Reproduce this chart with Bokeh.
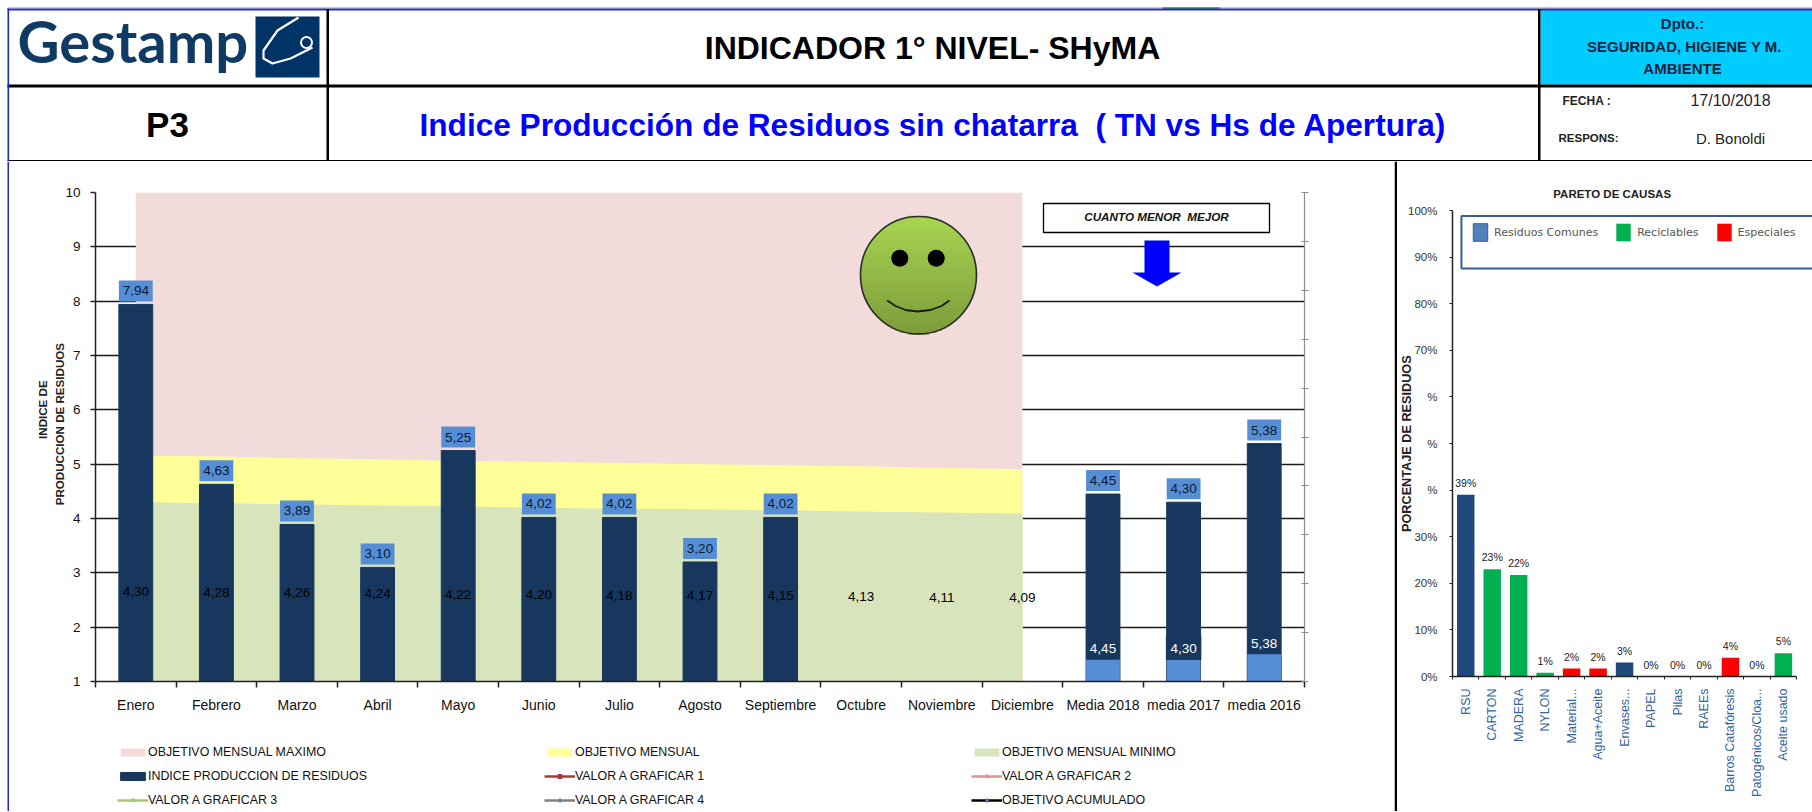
import numpy as np
from bokeh.embed import file_html
from bokeh.resources import INLINE
from bokeh.layouts import column, row
from bokeh.models import Range1d, LinearAxis, FixedTicker, Legend, LegendItem, Grid
from bokeh.plotting import figure
from bokeh.core.properties import value

# ---------- data ----------
months = ["Enero", "Febrero", "Marzo", "Abril", "Mayo", "Junio", "Julio", "Agosto", "Septiembre",
          "Octubre", "Noviembre", "Diciembre", "Media 2018", "media 2017", "media 2016"]
indice = [7.94, 4.63, 3.89, 3.10, 5.25, 4.02, 4.02, 3.20, 4.02, None, None, None, 4.45, 4.30, 5.38]
obj_min = [4.30, 4.28, 4.26, 4.24, 4.22, 4.20, 4.18, 4.17, 4.15, 4.13, 4.11, 4.09]
obj_med = [5.16, 5.14, 5.11, 5.09, 5.06, 5.04, 5.02, 5.00, 4.98, 4.96, 4.93, 4.91]
obj_max = [10, 10, 10, 10, 10, 10, 10, 10, 10, 10, 10, 10]
medias = [1.40, 1.40, 1.50]
pareto_cats = ["RSU", "CARTON", "MADERA", "NYLON", "Material...", "Agua+Aceite", "Envases...", "PAPEL", "Pilas",
               "RAEEs", "Barros Catafóresis", "Patogénicos/Cloa...", "Aceite usado"]
pareto_vals = [39, 23, 21.8, 0.8, 1.7, 1.7, 3, 0, 0, 0, 4, 0, 5]
pareto_text = ["39%", "23%", "22%", "1%", "2%", "2%", "3%", "0%", "0%", "0%", "4%", "0%", "5%"]
pareto_class = ["c", "r", "r", "r", "e", "e", "c", "c", "e", "e", "e", "e", "r"]

ARIAL = "Liberation Sans"
NAVY = "#17375E"
LBLUE = "#558ED5"
NAN = float("nan")
NB = "\u00a0"

def T(p, x, y, s, size, color="#000000", style="normal", align="center", font=ARIAL, baseline="middle", **kw):
    return p.text([x], [y], text=[s], text_font=value(font), text_font_size=f"{size}px", text_color=color,
                  text_font_style=style, text_align=align, text_baseline=baseline, **kw)

def box(p, x0, x1, y0, y1, c, **kw):
    p.quad(left=[x0], right=[x1], top=[y0], bottom=[y1], fill_color=c, line_color=None, **kw)

def strip(w, ht, parts):
    s = figure(width=w, height=ht, x_range=(0, w), y_range=(0, ht), output_backend="svg", toolbar_location=None,
               min_border=0, outline_line_color=None, x_axis_location=None, y_axis_location=None)
    s.grid.visible = False
    for x0, x1, c in parts:
        box(s, x0, x1, 0, ht, c)
    return s

# ---------- header ----------
h = figure(width=1812, height=161, x_range=(0, 1812), y_range=(161, 0), output_backend="svg",
           toolbar_location=None, min_border=0, outline_line_color=None, x_axis_location=None, y_axis_location=None)
h.grid.visible = False
box(h, 1540, 1812, 9, 84, "#00CCFF")
box(h, 7, 1812, 7, 8.3, "#8C8CA8")
box(h, 1162, 1219, 7, 8.3, "#0B6B4B")
box(h, 7, 1812, 8.3, 10, "#2A2ACF")
box(h, 7, 1812, 84, 87, "#000000")
box(h, 7, 1812, 159.5, 161, "#000000")
box(h, 326, 328.5, 9, 160, "#000000")
box(h, 1537.5, 1540, 9, 160, "#000000")
box(h, 7, 8.6, 8, 161, "#2222DD")
# logo
T(h, 17, 40, "Gestamp", 58, "#0F3A63", "bold", "left", "Lato")
box(h, 255, 319, 16, 77, "#003366")
hook_x = [298, 277, 263, 263, 272, 290, 312]
hook_y = [17, 30, 50, 58, 63, 58, 47]
h.line(hook_x, hook_y, line_color="#FFFFFF", line_width=2.2)
h.ellipse(x=[306], y=[42], width=[11], height=[11], fill_color=None, line_color="#FFFFFF", line_width=2)
T(h, 167, 124, "P3", 35, style="bold")
T(h, 932, 47, "INDICADOR 1° NIVEL- SHyMA", 32, style="bold")
T(h, 419, 124, "Indice Producción de Residuos sin chatarra" + NB + NB + "( TN vs Hs de Apertura)", 31.6, "#0000FF", "bold", "left")
T(h, 1682, 23, "Dpto.:", 15, "#10243E", "bold")
T(h, 1684, 45.5, "SEGURIDAD, HIGIENE Y M.", 15, "#10243E", "bold")
T(h, 1682, 67.5, "AMBIENTE", 15, "#10243E", "bold")
T(h, 1562, 100, "FECHA :", 12, "#222222", "bold", "left")
T(h, 1558, 137, "RESPONS:", 11.5, "#222222", "bold", "left")
T(h, 1730, 100, "17/10/2018", 16, "#222233")
T(h, 1730, 138, "D. Bonoldi", 15, "#222222")

# ---------- main chart ----------
L, R, TOP, BOT = 95, 1304, 192, 681
FX0, FX1, FY0, FY1, FLEG = 9, 1394, 161, 811, 735
m = figure(width=FX1 - FX0, height=FLEG - FY0, x_range=(0, 15), y_range=(1, 10), output_backend="svg", toolbar_location=None,
           min_border_left=L - FX0, min_border_right=FX1 - R, min_border_top=TOP - FY0, min_border_bottom=FLEG - BOT,
           outline_line_color=None, x_axis_location=None, y_axis_location=None)
m.extra_x_ranges["px"] = Range1d(L, R)
m.extra_y_ranges["px"] = Range1d(BOT, TOP)
m.extra_y_ranges["sec"] = Range1d(0, 10)
m.xgrid.visible = False
m.ygrid.visible = False
pos = [i + 0.5 for i in range(len(months))]
area_x = pos[:12]
base = [1] * 12

yaxis = LinearAxis(ticker=FixedTicker(ticks=list(range(1, 11))), axis_line_color="#222222", axis_line_width=1.5,
                   major_tick_line_color="#222222", major_tick_line_width=1.5, major_tick_in=0, major_tick_out=5,
                   major_label_text_font=ARIAL, major_label_text_font_size="13.5px", major_label_text_color="#111111",
                   major_label_standoff=10,
                   axis_label=NB * 17 + "INDICE DE\n" + NB * 8 + "PRODUCCION DE RESIDUOS",
                   axis_label_text_font=ARIAL, axis_label_text_font_size="11.6px", axis_label_text_font_style="bold",
                   axis_label_standoff=-4, axis_label_text_color="#222222", axis_label_text_line_height=1.34,
                   minor_tick_line_color=None)
m.add_layout(yaxis, "left")
xaxis = LinearAxis(ticker=FixedTicker(ticks=pos, minor_ticks=list(range(0, 16))),
                   major_label_overrides=dict(zip(pos, months)), axis_line_color="#222222", axis_line_width=1.5,
                   major_tick_line_color=None, minor_tick_line_color="#222222", minor_tick_line_width=1.5,
                   minor_tick_in=0, minor_tick_out=6, major_label_text_font=ARIAL, major_label_text_font_size="14px",
                   major_label_text_color="#111111", major_label_standoff=9)
m.add_layout(xaxis, "below")
raxis = LinearAxis(y_range_name="sec", ticker=FixedTicker(ticks=list(range(0, 11))), axis_line_color="#8C8C8C",
                   axis_line_width=1.2, major_tick_line_color="#8C8C8C", major_tick_in=3, major_tick_out=4,
                   major_label_overrides={i: "" for i in range(0, 11)}, minor_tick_line_color=None)
m.add_layout(raxis, "right")
m.add_layout(Grid(dimension=1, ticker=FixedTicker(ticks=list(range(1, 11))), grid_line_color="#1A1A1A", grid_line_width=1.6,
                  axis=yaxis))

AREA_COLORS = ["#F2DCDB", "#FFFF99", "#D8E4BC"]
m.varea(area_x, base, obj_max, fill_color=AREA_COLORS[0])
m.varea(area_x, base, obj_med, fill_color=AREA_COLORS[1])
m.varea(area_x, base, obj_min, fill_color=AREA_COLORS[2])

bx = [p for p, v in zip(pos, indice) if v is not None]
bv = [v for v in indice if v is not None]
m.vbar(x=bx, width=0.42, bottom=1, top=bv, fill_color=NAVY, line_color=NAVY)
ppu = (BOT - TOP) / 9.0
m.vbar(x=bx, width=0.42, bottom=[v + 3 / ppu for v in bv], top=[v + 24 / ppu for v in bv], fill_color=LBLUE,
       line_color=None)
m.text(x=bx, y=[v + 13.5 / ppu for v in bv], text=[f"{v:.2f}".replace(".", ",") for v in bv],
       text_font=value(ARIAL), text_font_size="13.5px", text_align="center", text_baseline="middle", text_color="#0A1A30")
m.text(x=area_x, y=[(1 + v) / 2 for v in obj_min], text=[f"{v:.2f}".replace(".", ",") for v in obj_min],
       text_font=value(ARIAL), text_font_size="13.5px", text_align="center", text_baseline="middle", text_color="#000000")
mx = pos[12:]
mv = indice[12:]
m.vbar(x=mx, width=0.42, bottom=1, top=medias, fill_color=LBLUE, line_color=None)
m.vbar(x=[mx[1]], width=0.44, bottom=[medias[1]], top=[medias[1] + 24 / ppu], fill_color=NAVY, line_color=None)
m.text(x=mx, y=[v + 11 / ppu for v in medias], text=[f"{v:.2f}".replace(".", ",") for v in mv],
       text_font=value(ARIAL), text_font_size="13.5px", text_align="center", text_baseline="middle", text_color="#FFFFFF")

# smiley, drawn in reference pixels
cx, cy, rx, ry = 918, 274.7, 58, 58.7
ys = np.linspace(cy - ry, cy + ry, 60)
for a, b in zip(ys[:-1], ys[1:]):
    t = ((a + b) / 2 - (cy - ry)) / (2 * ry)
    w = rx * np.sqrt(max(0, 1 - (((a + b) / 2 - cy) / ry) ** 2))
    col = "#%02X%02X%02X" % (int(168 - 42 * t), int(214 - 58 * t), int(82 - 22 * t))
    m.quad(left=[cx - w], right=[cx + w], top=[a - 0.7], bottom=[b + 0.7], fill_color=col, line_color=None,
           x_range_name="px", y_range_name="px")
m.ellipse(x=[cx], y=[cy], width=[2 * rx], height=[2 * ry], fill_color=None, line_color="#2A2A2A", line_width=1.6,
          x_range_name="px", y_range_name="px")
m.ellipse(x=[899.3, 935.7], y=[257.7, 257.7], width=[17, 17], height=[17, 17], fill_color="#000000", line_color=None,
          x_range_name="px", y_range_name="px")
m.line([886.7, 895, 905, 917, 930, 941, 949], [300, 305.5, 309.5, 311, 309.5, 305.5, 300], line_color="#1A1A1A", line_width=1.8,
       x_range_name="px", y_range_name="px")
m.quad(left=[1043], right=[1269], top=[203], bottom=[232], fill_color="#FFFFFF", line_color="#000000", line_width=1.3,
       x_range_name="px", y_range_name="px")
T(m, 1156, 216, "CUANTO MENOR" + NB + NB + "MEJOR", 11.7, "#111111", "bold italic", x_range_name="px", y_range_name="px")
m.patch([1144, 1169, 1169, 1181, 1156.5, 1132, 1144], [240, 240, 272, 272, 286, 272, 272], fill_color="#0000FF", line_color=None,
        x_range_name="px", y_range_name="px")

# ---------- legend of the main chart (own panel under the axis) ----------
lf = figure(width=FX1 - FX0, height=FY1 - FLEG, x_range=(0, 1), y_range=(0, 1), output_backend="svg", toolbar_location=None,
            min_border=0, outline_line_color=None, x_axis_location=None, y_axis_location=None)
lf.grid.visible = False
def key_area(c):
    return [lf.varea([NAN], [NAN], [NAN], fill_color=c)]
def key_bar(c):
    return [lf.vbar(x=[NAN], width=0.1, bottom=[NAN], top=[NAN], fill_color=c, line_color=c)]
def key_line(color, marker, mcolor):
    return [lf.line(x=[NAN], y=[NAN], line_color=color, line_width=2.5),
            lf.scatter(x=[NAN], y=[NAN], marker=marker, size=7, fill_color=mcolor, line_color=mcolor)]
items = [LegendItem(label="OBJETIVO MENSUAL MAXIMO", renderers=key_area(AREA_COLORS[0])),
         LegendItem(label="OBJETIVO MENSUAL", renderers=key_area(AREA_COLORS[1])),
         LegendItem(label="OBJETIVO MENSUAL MINIMO", renderers=key_area(AREA_COLORS[2])),
         LegendItem(label="INDICE PRODUCCION DE RESIDUOS", renderers=key_bar(NAVY)),
         LegendItem(label="VALOR A GRAFICAR 1", renderers=key_line("#A63C3A", "square", "#A63C3A")),
         LegendItem(label="VALOR A GRAFICAR 2", renderers=key_line("#D99694", "triangle", "#D99694")),
         LegendItem(label="VALOR A GRAFICAR 3", renderers=key_line("#A9C47F", "triangle", "#A9C47F")),
         LegendItem(label="VALOR A GRAFICAR 4", renderers=key_line("#808080", "diamond", "#4F81BD")),
         LegendItem(label="OBJETIVO ACUMULADO", renderers=key_line("#000000", "diamond", "#7F5FA8"))]
leg = Legend(items=items, orientation="horizontal", ncols=3, location=(108, 4), background_fill_alpha=0, border_line_color=None,
             glyph_width=31, glyph_height=10, label_standoff=0, label_width=386, spacing=10, margin=0, padding=0,
             label_text_font=ARIAL, label_text_font_size="12.4px", label_text_color="#111111", label_height=14)
lf.add_layout(leg, "center")

# ---------- pareto ----------
PL, PT, PB = 1449, 210, 676
PSTEP = (1796 - 1449) / 13.0          # width of one category
QX0, QX1 = 1397, 1812
q = figure(width=QX1 - QX0, height=FY1 - FY0, x_range=(0, (QX1 - PL) / PSTEP), y_range=(0, 100 * (PB - FY0) / (PB - PT)),
           output_backend="svg", toolbar_location=None,
           min_border_left=PL - QX0, min_border_right=0, min_border_top=0, min_border_bottom=FY1 - PB,
           outline_line_color=None, x_axis_location=None, y_axis_location=None)
q.extra_x_ranges["px"] = Range1d(PL, QX1)
q.extra_y_ranges["px"] = Range1d(PB, FY0)
q.xgrid.visible = False
q.ygrid.visible = False
pt = list(range(0, 101, 10))
labels = {v: f"{v}%" for v in pt}
labels.update({40: "%", 50: "%", 60: "%"})
qy = LinearAxis(ticker=FixedTicker(ticks=pt), major_label_overrides=labels, axis_line_color="#222222", axis_line_width=1.5,
                bounds=(0, 100), major_tick_line_color="#222222", major_tick_in=0, major_tick_out=3, minor_tick_line_color=None,
                major_label_text_font=ARIAL, major_label_text_font_size="11.5px", major_label_text_color="#333333",
                major_label_standoff=12, axis_label="PORCENTAJE DE RESIDUOS" + NB * 14, axis_label_text_font=ARIAL,
                axis_label_text_font_size="12.7px", axis_label_text_font_style="bold", axis_label_text_color="#222222",
                axis_label_standoff=-9)
q.add_layout(qy, "left")
qp = [i + 0.5 for i in range(13)]
qx = LinearAxis(ticker=FixedTicker(ticks=qp, minor_ticks=list(range(0, 14))), major_label_overrides=dict(zip(qp, pareto_cats)),
                bounds=(0, 13), major_label_orientation=np.pi / 2, axis_line_color="#222222", axis_line_width=1.5,
                major_tick_line_color=None, minor_tick_line_color="#222222", minor_tick_in=0, minor_tick_out=3,
                major_label_text_font=ARIAL, major_label_text_font_size="12.5px", major_label_text_color="#35659F",
                major_label_standoff=6)
q.add_layout(qx, "below")
def series(k, c):
    xs = [p for p, cl in zip(qp, pareto_class) if cl == k]
    vs = [v for v, cl in zip(pareto_vals, pareto_class) if cl == k]
    return q.vbar(x=xs, width=0.66, bottom=0, top=vs, fill_color=c, line_color=None)
q.quad(left=[1458], right=[1830], top=[215.5], bottom=[268], fill_color="#FFFFFF", line_color="#385D8A", line_width=2,
       x_range_name="px", y_range_name="px")
rc = series("c", "#1F497D")
rr = series("r", "#00B050")
re = series("e", "#FF0000")
rc_key = q.vbar(x=[NAN], width=0.66, bottom=[NAN], top=[NAN], fill_color="#4F81BD", line_color="#385D8A")
q.text(x=qp, y=[v + 12 * 100 / (PB - PT) for v in pareto_vals], text=pareto_text, text_font=value(ARIAL), text_font_size="10.5px",
       text_align="center", text_baseline="middle", text_color="#222222")
pl = Legend(items=[LegendItem(label="Residuos Comunes", renderers=[rc_key]), LegendItem(label="Reciclables", renderers=[rr]),
                   LegendItem(label="Especiales", renderers=[re])], orientation="horizontal", location=(19, 433),
            background_fill_alpha=0, border_line_color=None, glyph_width=18, glyph_height=22, label_standoff=5, spacing=16,
            margin=0, padding=0, label_text_font="DejaVu Sans", label_text_font_size="11px", label_text_color="#555555")
q.add_layout(pl, "center")
T(q, 1610, 193.5, "PARETO DE CAUSAS", 11.5, "#222222", "bold", x_range_name="px", y_range_name="px")

left_strip = strip(9, FY1 - FY0, [(7, 8.6, "#2222DD")])
div_strip = strip(3, FY1 - FY0, [(0, 3, "#000000")])
bottom_strip = strip(1812, 1, [(0, 1812, "#DDDDDD")])

page = column(h, row(column(left_strip), column(column(m), column(lf), spacing=0), column(div_strip), column(q), spacing=0),
              bottom_strip, spacing=0)
open("out.html", "w").write(file_html(page, INLINE))
